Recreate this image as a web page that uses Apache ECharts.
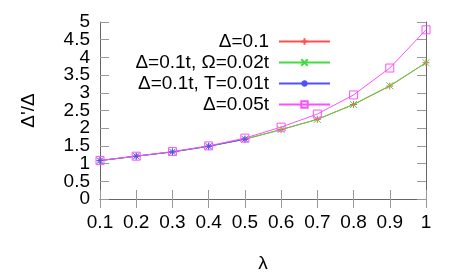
<!DOCTYPE html>
<html><head><meta charset="utf-8">
<script src="https://cdn.jsdelivr.net/npm/echarts@6/dist/echarts.min.js"></script>
<style>html,body{margin:0;padding:0;background:#fff}#c{width:463px;height:278px}</style>
</head><body><div id="c"></div>
<script>
const xRed = [0.1,0.2,0.3,0.4,0.5,0.6,0.7,0.8,0.9,1.0];
const yRed = [1.085,1.21,1.33,1.49,1.69,1.96,2.25,2.67,3.19,3.85];
const xGreen = [0.1,0.2,0.3,0.4,0.5,0.6,0.7,0.8,0.9,1.0];
const yGreen = [1.085,1.21,1.33,1.49,1.69,1.96,2.25,2.67,3.20,3.85];
const xBlue = [0.1,0.2,0.3,0.4,0.5];
const yBlue = [1.085,1.21,1.33,1.49,1.69];
const xPink = [0.1,0.2,0.3,0.4,0.5,0.6,0.7,0.8,0.9,1.0];
const yPink = [1.09,1.21,1.34,1.50,1.72,2.03,2.40,2.94,3.70,4.78];
const names = ['Δ=0.1','Δ=0.1t, Ω=0.02t','Δ=0.1t, T=0.01t','Δ=0.05t'];
const xTicks = [0.1,0.2,0.3,0.4,0.5,0.6,0.7,0.8,0.9,1];
const yTicks = [0,0.5,1,1.5,2,2.5,3,3.5,4,4.5,5];

const pair = (xs, ys) => xs.map((x,i)=>[x,ys[i]]);
const plus = 'path://M0,5L10,5M5,0L5,10';
const cross = 'path://M0,0L10,10M10,0L0,10';
const star = 'path://M0,5L10,5M5,0L5,10M1.5,1.5L8.5,8.5M8.5,1.5L1.5,8.5';
const FONT = 'Liberation Sans, Arial, sans-serif';

function mk(name, data, color, symbol, size) {
  return {
    name, type:'line', data, symbol, symbolSize:size, showSymbol:true,
    lineStyle:{color, width:1},
    itemStyle:{color:'rgba(0,0,0,0)', borderColor:color, borderWidth:1},
    animation:false
  };
}
const yLab = (wantInt) => (v => {
  const t = yTicks.find(y=>Math.abs(y-v)<1e-6);
  if (t===undefined) return '';
  const isInt = Math.abs(t-Math.round(t))<1e-6;
  return isInt===wantInt ? String(t) : '';
});
const chart = echarts.init(document.getElementById('c'), null, {renderer:'canvas'});
const axCommon = {
  type:'value', min:0.1, max:1, interval:0.1,
  splitLine:{show:false},
  axisLine:{lineStyle:{color:'#666', width:1}},
  axisTick:{inside:true, length:9, lineStyle:{color:'#999'}},
};
const yBase = {type:'value', min:0, max:5, interval:0.5, splitLine:{show:false}};
chart.setOption({
  animation:false,
  grid:{left:100, right:37, top:22, bottom:67},
  legend:{
    orient:'vertical', right:127, top:27, align:'right',
    itemWidth:51, itemHeight:8, itemGap:2,
    textStyle:{fontFamily:FONT, fontSize:19, lineHeight:19, color:'#000', padding:[0,5,0,0]},
    data:names
  },
  xAxis:[
    Object.assign({}, axCommon, {
      position:'bottom', name:'λ', nameLocation:'middle', nameGap:55,
      nameTextStyle:{fontFamily:FONT, fontSize:19, color:'#000'},
      axisLabel:{fontFamily:FONT, fontSize:19, color:'#000', margin:14,
        showMinLabel:true, showMaxLabel:true, hideOverlap:false,
        formatter: v => { const t = xTicks.find(x=>Math.abs(x-v)<1e-6); return t===undefined?'':String(t); }}
    }),
    Object.assign({}, axCommon, {position:'top', axisLabel:{show:false}})
  ],
  yAxis:[
    Object.assign({}, yBase, {position:'left',
     axisLine:{show:true, lineStyle:{color:'#666'}},
     axisTick:{inside:true, length:9, lineStyle:{color:'#999'}},
     name:'Δ\'/Δ', nameLocation:'middle', nameGap:62, nameRotate:90,
     nameTextStyle:{fontFamily:FONT, fontSize:19, color:'#000'},
     axisLabel:{fontFamily:FONT, fontSize:19, color:'#000', margin:10,
       showMinLabel:true, showMaxLabel:true, hideOverlap:false, formatter:yLab(true)}}),
    Object.assign({}, yBase, {position:'right',
     axisLine:{show:true, lineStyle:{color:'#666'}},
     axisTick:{inside:true, length:9, lineStyle:{color:'#999'}},
     axisLabel:{show:false}}),
    Object.assign({}, yBase, {position:'left', offset:0,
     axisLine:{show:false}, axisTick:{show:false},
     axisLabel:{fontFamily:FONT, fontSize:19, color:'#000', margin:10,
       showMinLabel:true, showMaxLabel:true, hideOverlap:false, formatter:yLab(false)}})
  ],
  series:[
    mk(names[0], pair(xRed,yRed), '#ff5050', plus, 7),
    mk(names[1], pair(xGreen,yGreen), '#40dd40', cross, 7),
    mk(names[2], pair(xBlue,yBlue), '#5050ff', star, 7),
    mk(names[3], pair(xPink,yPink), '#ff50ff', 'rect', 8)
  ]
});
</script></body></html>
